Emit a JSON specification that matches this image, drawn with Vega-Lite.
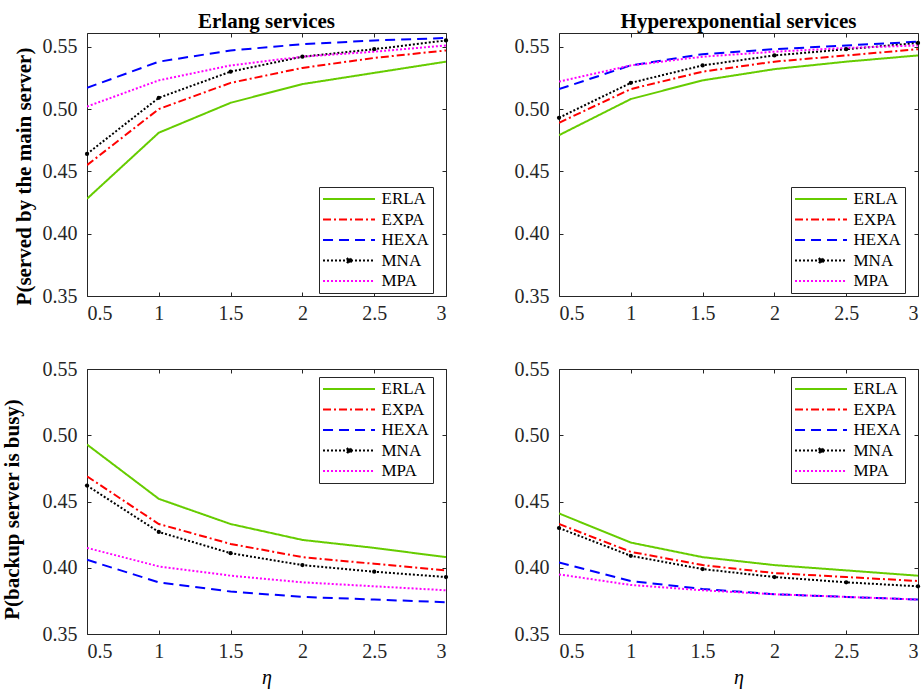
{
  "$schema": "https://vega.github.io/schema/vega-lite/v6.json",
  "background": "white",
  "padding": {"left": 0, "top": 10, "right": 5, "bottom": 5},
  "config": {
    "font": "Liberation Serif, Times New Roman, serif",
    "style": {"guide-label": {"font": "Liberation Serif, Times New Roman, serif"}, "guide-title": {"font": "Liberation Serif, Times New Roman, serif"}, "group-title": {"font": "Liberation Serif, Times New Roman, serif"}},
    "view": {"stroke": "#262626", "strokeWidth": 1},
    "axis": {"domain": false, "grid": false, "tickColor": "#262626", "tickSize": -4, "tickWidth": 1,
      "labelFont": "Liberation Serif, Times New Roman, serif", "labelFontSize": 20, "labelColor": "#262626",
      "titleFont": "Liberation Serif, Times New Roman, serif", "titleFontSize": 21, "titleColor": "black", "titleFontWeight": "bold"},
    "axisX": {"labelPadding": 11},
    "axisY": {"labelPadding": 14, "titlePadding": 8},
    "title": {"font": "Liberation Serif, Times New Roman, serif", "fontSize": 21, "fontWeight": "bold", "color": "black", "offset": 1},
    "legend": {"title": null, "orient": "none", "symbolType": "M-7.2,0M-5,0H5", "symbolSize": 108,
      "symbolStrokeWidth": 2, "symbolOffset": 18, "labelOffset": 24, "rowPadding": 2.5, "labelFont": "Liberation Serif, Times New Roman, serif",
      "labelFontSize": 17, "labelColor": "black", "padding": 3.5, "strokeColor": "#262626", "fillColor": "white", "cornerRadius": 0}
  },
  "datasets": {
    "d": [
      {"panel": "TL", "series": "ERLA", "eta": 0.5, "p": 0.428}, {"panel": "TL", "series": "ERLA", "eta": 1, "p": 0.481}, {"panel": "TL", "series": "ERLA", "eta": 1.5, "p": 0.505}, {"panel": "TL", "series": "ERLA", "eta": 2, "p": 0.520}, {"panel": "TL", "series": "ERLA", "eta": 2.5, "p": 0.529}, {"panel": "TL", "series": "ERLA", "eta": 3, "p": 0.538},
      {"panel": "TL", "series": "EXPA", "eta": 0.5, "p": 0.455}, {"panel": "TL", "series": "EXPA", "eta": 1, "p": 0.500}, {"panel": "TL", "series": "EXPA", "eta": 1.5, "p": 0.521}, {"panel": "TL", "series": "EXPA", "eta": 2, "p": 0.533}, {"panel": "TL", "series": "EXPA", "eta": 2.5, "p": 0.541}, {"panel": "TL", "series": "EXPA", "eta": 3, "p": 0.547},
      {"panel": "TL", "series": "HEXA", "eta": 0.5, "p": 0.517}, {"panel": "TL", "series": "HEXA", "eta": 1, "p": 0.538}, {"panel": "TL", "series": "HEXA", "eta": 1.5, "p": 0.547}, {"panel": "TL", "series": "HEXA", "eta": 2, "p": 0.552}, {"panel": "TL", "series": "HEXA", "eta": 2.5, "p": 0.555}, {"panel": "TL", "series": "HEXA", "eta": 3, "p": 0.557},
      {"panel": "TL", "series": "MNA", "eta": 0.5, "p": 0.464}, {"panel": "TL", "series": "MNA", "eta": 1, "p": 0.509}, {"panel": "TL", "series": "MNA", "eta": 1.5, "p": 0.530}, {"panel": "TL", "series": "MNA", "eta": 2, "p": 0.542}, {"panel": "TL", "series": "MNA", "eta": 2.5, "p": 0.548}, {"panel": "TL", "series": "MNA", "eta": 3, "p": 0.555},
      {"panel": "TL", "series": "MPA", "eta": 0.5, "p": 0.502}, {"panel": "TL", "series": "MPA", "eta": 1, "p": 0.523}, {"panel": "TL", "series": "MPA", "eta": 1.5, "p": 0.535}, {"panel": "TL", "series": "MPA", "eta": 2, "p": 0.542}, {"panel": "TL", "series": "MPA", "eta": 2.5, "p": 0.546}, {"panel": "TL", "series": "MPA", "eta": 3, "p": 0.551},
      {"panel": "TR", "series": "ERLA", "eta": 0.5, "p": 0.479}, {"panel": "TR", "series": "ERLA", "eta": 1, "p": 0.508}, {"panel": "TR", "series": "ERLA", "eta": 1.5, "p": 0.523}, {"panel": "TR", "series": "ERLA", "eta": 2, "p": 0.532}, {"panel": "TR", "series": "ERLA", "eta": 2.5, "p": 0.538}, {"panel": "TR", "series": "ERLA", "eta": 3, "p": 0.543},
      {"panel": "TR", "series": "EXPA", "eta": 0.5, "p": 0.489}, {"panel": "TR", "series": "EXPA", "eta": 1, "p": 0.516}, {"panel": "TR", "series": "EXPA", "eta": 1.5, "p": 0.530}, {"panel": "TR", "series": "EXPA", "eta": 2, "p": 0.538}, {"panel": "TR", "series": "EXPA", "eta": 2.5, "p": 0.543}, {"panel": "TR", "series": "EXPA", "eta": 3, "p": 0.548},
      {"panel": "TR", "series": "HEXA", "eta": 0.5, "p": 0.516}, {"panel": "TR", "series": "HEXA", "eta": 1, "p": 0.535}, {"panel": "TR", "series": "HEXA", "eta": 1.5, "p": 0.544}, {"panel": "TR", "series": "HEXA", "eta": 2, "p": 0.548}, {"panel": "TR", "series": "HEXA", "eta": 2.5, "p": 0.551}, {"panel": "TR", "series": "HEXA", "eta": 3, "p": 0.554},
      {"panel": "TR", "series": "MNA", "eta": 0.5, "p": 0.493}, {"panel": "TR", "series": "MNA", "eta": 1, "p": 0.521}, {"panel": "TR", "series": "MNA", "eta": 1.5, "p": 0.535}, {"panel": "TR", "series": "MNA", "eta": 2, "p": 0.543}, {"panel": "TR", "series": "MNA", "eta": 2.5, "p": 0.548}, {"panel": "TR", "series": "MNA", "eta": 3, "p": 0.553},
      {"panel": "TR", "series": "MPA", "eta": 0.5, "p": 0.522}, {"panel": "TR", "series": "MPA", "eta": 1, "p": 0.535}, {"panel": "TR", "series": "MPA", "eta": 1.5, "p": 0.542}, {"panel": "TR", "series": "MPA", "eta": 2, "p": 0.546}, {"panel": "TR", "series": "MPA", "eta": 2.5, "p": 0.549}, {"panel": "TR", "series": "MPA", "eta": 3, "p": 0.551},
      {"panel": "BL", "series": "ERLA", "eta": 0.5, "p": 0.493}, {"panel": "BL", "series": "ERLA", "eta": 1, "p": 0.452}, {"panel": "BL", "series": "ERLA", "eta": 1.5, "p": 0.433}, {"panel": "BL", "series": "ERLA", "eta": 2, "p": 0.421}, {"panel": "BL", "series": "ERLA", "eta": 2.5, "p": 0.415}, {"panel": "BL", "series": "ERLA", "eta": 3, "p": 0.408},
      {"panel": "BL", "series": "EXPA", "eta": 0.5, "p": 0.469}, {"panel": "BL", "series": "EXPA", "eta": 1, "p": 0.433}, {"panel": "BL", "series": "EXPA", "eta": 1.5, "p": 0.418}, {"panel": "BL", "series": "EXPA", "eta": 2, "p": 0.408}, {"panel": "BL", "series": "EXPA", "eta": 2.5, "p": 0.403}, {"panel": "BL", "series": "EXPA", "eta": 3, "p": 0.398},
      {"panel": "BL", "series": "HEXA", "eta": 0.5, "p": 0.406}, {"panel": "BL", "series": "HEXA", "eta": 1, "p": 0.389}, {"panel": "BL", "series": "HEXA", "eta": 1.5, "p": 0.382}, {"panel": "BL", "series": "HEXA", "eta": 2, "p": 0.378}, {"panel": "BL", "series": "HEXA", "eta": 2.5, "p": 0.376}, {"panel": "BL", "series": "HEXA", "eta": 3, "p": 0.374},
      {"panel": "BL", "series": "MNA", "eta": 0.5, "p": 0.462}, {"panel": "BL", "series": "MNA", "eta": 1, "p": 0.427}, {"panel": "BL", "series": "MNA", "eta": 1.5, "p": 0.411}, {"panel": "BL", "series": "MNA", "eta": 2, "p": 0.402}, {"panel": "BL", "series": "MNA", "eta": 2.5, "p": 0.397}, {"panel": "BL", "series": "MNA", "eta": 3, "p": 0.393},
      {"panel": "BL", "series": "MPA", "eta": 0.5, "p": 0.415}, {"panel": "BL", "series": "MPA", "eta": 1, "p": 0.401}, {"panel": "BL", "series": "MPA", "eta": 1.5, "p": 0.394}, {"panel": "BL", "series": "MPA", "eta": 2, "p": 0.389}, {"panel": "BL", "series": "MPA", "eta": 2.5, "p": 0.386}, {"panel": "BL", "series": "MPA", "eta": 3, "p": 0.383},
      {"panel": "BR", "series": "ERLA", "eta": 0.5, "p": 0.441}, {"panel": "BR", "series": "ERLA", "eta": 1, "p": 0.419}, {"panel": "BR", "series": "ERLA", "eta": 1.5, "p": 0.408}, {"panel": "BR", "series": "ERLA", "eta": 2, "p": 0.402}, {"panel": "BR", "series": "ERLA", "eta": 2.5, "p": 0.398}, {"panel": "BR", "series": "ERLA", "eta": 3, "p": 0.394},
      {"panel": "BR", "series": "EXPA", "eta": 0.5, "p": 0.433}, {"panel": "BR", "series": "EXPA", "eta": 1, "p": 0.412}, {"panel": "BR", "series": "EXPA", "eta": 1.5, "p": 0.402}, {"panel": "BR", "series": "EXPA", "eta": 2, "p": 0.396}, {"panel": "BR", "series": "EXPA", "eta": 2.5, "p": 0.393}, {"panel": "BR", "series": "EXPA", "eta": 3, "p": 0.390},
      {"panel": "BR", "series": "HEXA", "eta": 0.5, "p": 0.404}, {"panel": "BR", "series": "HEXA", "eta": 1, "p": 0.390}, {"panel": "BR", "series": "HEXA", "eta": 1.5, "p": 0.384}, {"panel": "BR", "series": "HEXA", "eta": 2, "p": 0.380}, {"panel": "BR", "series": "HEXA", "eta": 2.5, "p": 0.378}, {"panel": "BR", "series": "HEXA", "eta": 3, "p": 0.376},
      {"panel": "BR", "series": "MNA", "eta": 0.5, "p": 0.430}, {"panel": "BR", "series": "MNA", "eta": 1, "p": 0.409}, {"panel": "BR", "series": "MNA", "eta": 1.5, "p": 0.399}, {"panel": "BR", "series": "MNA", "eta": 2, "p": 0.393}, {"panel": "BR", "series": "MNA", "eta": 2.5, "p": 0.389}, {"panel": "BR", "series": "MNA", "eta": 3, "p": 0.386},
      {"panel": "BR", "series": "MPA", "eta": 0.5, "p": 0.395}, {"panel": "BR", "series": "MPA", "eta": 1, "p": 0.387}, {"panel": "BR", "series": "MPA", "eta": 1.5, "p": 0.383}, {"panel": "BR", "series": "MPA", "eta": 2, "p": 0.380}, {"panel": "BR", "series": "MPA", "eta": 2.5, "p": 0.378}, {"panel": "BR", "series": "MPA", "eta": 3, "p": 0.376}
    ]
  },
  "data": {"name": "d"},
  "bounds": "flush",
  "columns": 2,
  "spacing": {"row": 73, "column": 113},
  "concat": [
    {
      "width": 359, "height": 263,
      "title": "Erlang services",
      "transform": [{"filter": "datum.panel === 'TL'"}],
      "layer": [
        {
          "mark": {"type": "line", "strokeWidth": 2, "clip": true},
          "encoding": {
            "x": {"field": "eta", "type": "quantitative", "scale": {"domain": [0.5, 3], "nice": false}, "axis": {"orient": "bottom", "values": [0.5, 1, 1.5, 2, 2.5, 3], "format": "~g", "title": null}},
            "y": {"field": "p", "type": "quantitative", "scale": {"domain": [0.35, 0.561], "nice": false, "zero": false}, "axis": {"orient": "left", "values": [0.35, 0.4, 0.45, 0.5, 0.55], "format": ".2f", "title": "P(served by the main server)", "titleY": 143, "titlePadding": 8}},
            "color": {"field": "series", "type": "nominal", "scale": {"domain": ["ERLA", "EXPA", "HEXA", "MNA", "MPA"], "range": ["#66cc00", "#ff0000", "#0000ff", "#000000", "#ff00ff"]},
              "legend": {"orient": "none", "legendX": 232, "legendY": 154, "encode": {"symbols": {"update": {"fill": {"signal": "datum.value === 'MNA' ? 'black' : 'transparent'"}, "shape": {"signal": "datum.value === 'MNA' ? 'M-7.2,0M-5,0H5M0.45,0A0.45,0.45 0 1,1 -0.45,0A0.45,0.45 0 1,1 0.45,0Z' : 'M-7.2,0M-5,0H5'"}}}}}},
            "strokeDash": {"field": "series", "type": "nominal", "scale": {"domain": ["ERLA", "EXPA", "HEXA", "MNA", "MPA"], "range": [[1, 0], [8, 3, 2, 3], [10, 6], [2, 2], [2, 2]]}, "legend": {"orient": "none", "legendX": 232, "legendY": 154}}
          }
        },
        {
          "transform": [{"filter": "datum.series === 'MNA'"}],
          "mark": {"type": "point", "filled": true, "size": 18, "color": "black", "opacity": 1},
          "encoding": {
            "x": {"field": "eta", "type": "quantitative", "axis": {"orient": "top", "values": [0.5, 1, 1.5, 2, 2.5, 3], "labels": false, "title": null}},
            "y": {"field": "p", "type": "quantitative", "axis": {"orient": "right", "values": [0.35, 0.4, 0.45, 0.5, 0.55], "labels": false, "title": null}}
          }
        }
      ]
    },
    {
      "width": 359, "height": 263,
      "title": "Hyperexponential services",
      "transform": [{"filter": "datum.panel === 'TR'"}],
      "layer": [
        {
          "mark": {"type": "line", "strokeWidth": 2, "clip": true},
          "encoding": {
            "x": {"field": "eta", "type": "quantitative", "scale": {"domain": [0.5, 3], "nice": false}, "axis": {"orient": "bottom", "values": [0.5, 1, 1.5, 2, 2.5, 3], "format": "~g", "title": null}},
            "y": {"field": "p", "type": "quantitative", "scale": {"domain": [0.35, 0.561], "nice": false, "zero": false}, "axis": {"orient": "left", "values": [0.35, 0.4, 0.45, 0.5, 0.55], "format": ".2f", "title": null}},
            "color": {"field": "series", "type": "nominal", "scale": {"domain": ["ERLA", "EXPA", "HEXA", "MNA", "MPA"], "range": ["#66cc00", "#ff0000", "#0000ff", "#000000", "#ff00ff"]},
              "legend": {"orient": "none", "legendX": 232, "legendY": 154, "encode": {"symbols": {"update": {"fill": {"signal": "datum.value === 'MNA' ? 'black' : 'transparent'"}, "shape": {"signal": "datum.value === 'MNA' ? 'M-7.2,0M-5,0H5M0.45,0A0.45,0.45 0 1,1 -0.45,0A0.45,0.45 0 1,1 0.45,0Z' : 'M-7.2,0M-5,0H5'"}}}}}},
            "strokeDash": {"field": "series", "type": "nominal", "scale": {"domain": ["ERLA", "EXPA", "HEXA", "MNA", "MPA"], "range": [[1, 0], [8, 3, 2, 3], [10, 6], [2, 2], [2, 2]]}, "legend": {"orient": "none", "legendX": 232, "legendY": 154}}
          }
        },
        {
          "transform": [{"filter": "datum.series === 'MNA'"}],
          "mark": {"type": "point", "filled": true, "size": 18, "color": "black", "opacity": 1},
          "encoding": {
            "x": {"field": "eta", "type": "quantitative", "axis": {"orient": "top", "values": [0.5, 1, 1.5, 2, 2.5, 3], "labels": false, "title": null}},
            "y": {"field": "p", "type": "quantitative", "axis": {"orient": "right", "values": [0.35, 0.4, 0.45, 0.5, 0.55], "labels": false, "title": null}}
          }
        }
      ]
    },
    {
      "width": 359, "height": 265,
      "transform": [{"filter": "datum.panel === 'BL'"}],
      "layer": [
        {
          "mark": {"type": "line", "strokeWidth": 2, "clip": true},
          "encoding": {
            "x": {"field": "eta", "type": "quantitative", "scale": {"domain": [0.5, 3], "nice": false}, "axis": {"orient": "bottom", "values": [0.5, 1, 1.5, 2, 2.5, 3], "format": "~g", "title": "η", "titleFontStyle": "italic", "titleFontWeight": "normal", "titleFontSize": 20, "titlePadding": 6}},
            "y": {"field": "p", "type": "quantitative", "scale": {"domain": [0.35, 0.55], "nice": false, "zero": false}, "axis": {"orient": "left", "values": [0.35, 0.4, 0.45, 0.5, 0.55], "format": ".2f", "title": "P(backup server is busy)", "titleY": 140, "titlePadding": 20}},
            "color": {"field": "series", "type": "nominal", "scale": {"domain": ["ERLA", "EXPA", "HEXA", "MNA", "MPA"], "range": ["#66cc00", "#ff0000", "#0000ff", "#000000", "#ff00ff"]},
              "legend": {"orient": "none", "legendX": 232, "legendY": 8, "encode": {"symbols": {"update": {"fill": {"signal": "datum.value === 'MNA' ? 'black' : 'transparent'"}, "shape": {"signal": "datum.value === 'MNA' ? 'M-7.2,0M-5,0H5M0.45,0A0.45,0.45 0 1,1 -0.45,0A0.45,0.45 0 1,1 0.45,0Z' : 'M-7.2,0M-5,0H5'"}}}}}},
            "strokeDash": {"field": "series", "type": "nominal", "scale": {"domain": ["ERLA", "EXPA", "HEXA", "MNA", "MPA"], "range": [[1, 0], [8, 3, 2, 3], [10, 6], [2, 2], [2, 2]]}, "legend": {"orient": "none", "legendX": 232, "legendY": 8}}
          }
        },
        {
          "transform": [{"filter": "datum.series === 'MNA'"}],
          "mark": {"type": "point", "filled": true, "size": 18, "color": "black", "opacity": 1},
          "encoding": {
            "x": {"field": "eta", "type": "quantitative", "axis": {"orient": "top", "values": [0.5, 1, 1.5, 2, 2.5, 3], "labels": false, "title": null}},
            "y": {"field": "p", "type": "quantitative", "axis": {"orient": "right", "values": [0.35, 0.4, 0.45, 0.5, 0.55], "labels": false, "title": null}}
          }
        }
      ]
    },
    {
      "width": 359, "height": 265,
      "transform": [{"filter": "datum.panel === 'BR'"}],
      "layer": [
        {
          "mark": {"type": "line", "strokeWidth": 2, "clip": true},
          "encoding": {
            "x": {"field": "eta", "type": "quantitative", "scale": {"domain": [0.5, 3], "nice": false}, "axis": {"orient": "bottom", "values": [0.5, 1, 1.5, 2, 2.5, 3], "format": "~g", "title": "η", "titleFontStyle": "italic", "titleFontWeight": "normal", "titleFontSize": 20, "titlePadding": 6}},
            "y": {"field": "p", "type": "quantitative", "scale": {"domain": [0.35, 0.55], "nice": false, "zero": false}, "axis": {"orient": "left", "values": [0.35, 0.4, 0.45, 0.5, 0.55], "format": ".2f", "title": null}},
            "color": {"field": "series", "type": "nominal", "scale": {"domain": ["ERLA", "EXPA", "HEXA", "MNA", "MPA"], "range": ["#66cc00", "#ff0000", "#0000ff", "#000000", "#ff00ff"]},
              "legend": {"orient": "none", "legendX": 232, "legendY": 8, "encode": {"symbols": {"update": {"fill": {"signal": "datum.value === 'MNA' ? 'black' : 'transparent'"}, "shape": {"signal": "datum.value === 'MNA' ? 'M-7.2,0M-5,0H5M0.45,0A0.45,0.45 0 1,1 -0.45,0A0.45,0.45 0 1,1 0.45,0Z' : 'M-7.2,0M-5,0H5'"}}}}}},
            "strokeDash": {"field": "series", "type": "nominal", "scale": {"domain": ["ERLA", "EXPA", "HEXA", "MNA", "MPA"], "range": [[1, 0], [8, 3, 2, 3], [10, 6], [2, 2], [2, 2]]}, "legend": {"orient": "none", "legendX": 232, "legendY": 8}}
          }
        },
        {
          "transform": [{"filter": "datum.series === 'MNA'"}],
          "mark": {"type": "point", "filled": true, "size": 18, "color": "black", "opacity": 1},
          "encoding": {
            "x": {"field": "eta", "type": "quantitative", "axis": {"orient": "top", "values": [0.5, 1, 1.5, 2, 2.5, 3], "labels": false, "title": null}},
            "y": {"field": "p", "type": "quantitative", "axis": {"orient": "right", "values": [0.35, 0.4, 0.45, 0.5, 0.55], "labels": false, "title": null}}
          }
        }
      ]
    }
  ],
  "resolve": {"scale": {"color": "independent", "strokeDash": "independent"}, "legend": {"color": "independent", "strokeDash": "independent"}}
}
